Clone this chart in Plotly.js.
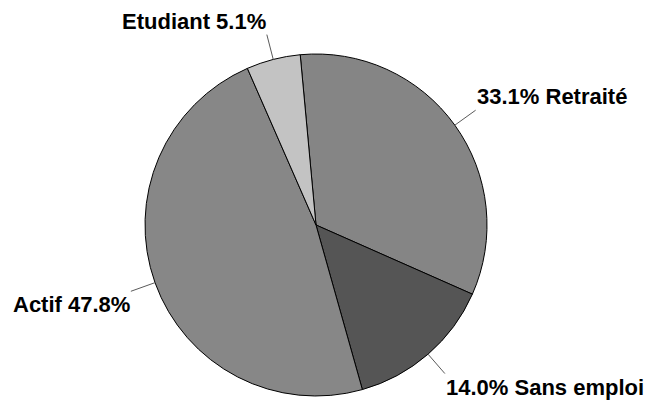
<!DOCTYPE html>
<html>
<head>
<meta charset="utf-8">
<script src="https://cdn.plot.ly/plotly-3.0.1.min.js"></script>
<style>html,body{margin:0;padding:0;background:#fff;}#chart{width:649px;height:401px;}</style>
</head>
<body>
<div id="chart"></div>
<script>
// Data
const labels = ["Retraité", "Sans emploi", "Actif", "Etudiant"];
const values = [33.1, 14.0, 47.8, 5.1];
const colors = ["#858585", "#555555", "#878787", "#c3c3c3"];

// Layout geometry (pixels)
const W = 649, H = 401;
const cx = 316, cy = 225, R = 171;
const rotation = -5.3;
const lineFactor = 1.15;

const total = values.reduce((a, b) => a + b, 0);
const shapes = [];
const annotations = [];
let cum = 0;
values.forEach((v, i) => {
  const mid = (rotation + (cum + v / 2) / total * 360) * Math.PI / 180;
  cum += v;
  const sx = Math.sin(mid), sy = -Math.cos(mid);
  const x0 = cx + R * sx, y0 = cy + R * sy;
  const x1 = cx + R * lineFactor * sx, y1 = cy + R * lineFactor * sy;
  shapes.push({
    type: "line", xref: "paper", yref: "paper",
    x0: x0 / W, y0: 1 - y0 / H, x1: x1 / W, y1: 1 - y1 / H,
    line: { color: "#5a5a5a", width: 1 }
  });
  const pct = (v / total * 100).toFixed(1) + "%";
  const right = sx > 0;
  const top = sy < 0;
  annotations.push({
    xref: "paper", yref: "paper",
    x: x1 / W, y: 1 - y1 / H,
    text: "<b>" + (right ? pct + " " + labels[i] : labels[i] + " " + pct) + "</b>",
    showarrow: false,
    xanchor: right ? "left" : "right",
    yanchor: top ? "bottom" : "top",
    font: { family: "Liberation Sans, Arial, sans-serif", size: 22, color: "#000" },
    borderpad: 0
  });
});

const data = [{
  type: "pie",
  labels: labels,
  values: values,
  sort: false,
  direction: "clockwise",
  rotation: rotation,
  textinfo: "none",
  hoverinfo: "label+percent",
  marker: { colors: colors, line: { color: "#000", width: 1 } },
  domain: { x: [(cx - R) / W, (cx + R) / W], y: [(H - cy - R) / H, (H - cy + R) / H] },
  showlegend: false
}];

const layout = {
  width: W, height: H,
  margin: { l: 0, r: 0, t: 0, b: 0 },
  paper_bgcolor: "#fff",
  plot_bgcolor: "#fff",
  showlegend: false,
  shapes: shapes,
  annotations: annotations
};

Plotly.newPlot("chart", data, layout, { displayModeBar: false, staticPlot: true });
</script>
</body>
</html>
